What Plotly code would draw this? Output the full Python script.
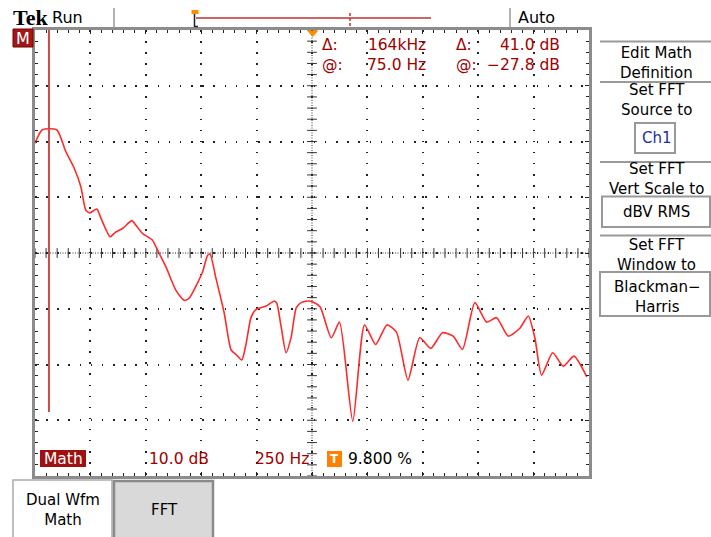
import plotly.graph_objects as go
import numpy as np

freq_hz = [0, 33, 98, 139, 176, 207, 229, 247, 279, 297, 339, 362, 395, 437, 455, 485,
           530, 553, 591, 636, 674, 696, 756, 779, 790, 817, 854, 885, 907, 933, 953,
           975, 998, 1043, 1080, 1091, 1111, 1133, 1156, 1179, 1201, 1231, 1254, 1287,
           1337, 1374, 1434, 1487, 1537, 1588, 1631, 1683, 1736, 1786, 1839, 1887, 1929,
           1985, 2038, 2083, 2135, 2188, 2226, 2256, 2286, 2336, 2384, 2432, 2490]
level_db = [19.7, 22.1, 22.1, 18.2, 15.3, 11.9, 7.7, 7.2, 7.9, 6.3, 2.9, 3.7, 4.4, 5.8, 5.0, 3.5,
            2.3, 0.5, -2.5, -6.7, -8.5, -8.1, -3.4, -0.4, -0.2, -4.6, -10.8, -17.4, -18.2, -19.2, -16.2,
            -11.5, -10.1, -9.5, -8.6, -9.0, -13.3, -17.9, -15.1, -9.8, -8.9, -8.6, -8.8, -9.7,
            -15.2, -12.4, -30.2, -12.9, -16.4, -12.9, -14.2, -22.8, -15.2, -17.1, -14.3, -14.9, -17.3,
            -8.9, -12.4, -11.6, -14.9, -13.5, -11.3, -15.3, -21.9, -17.9, -20.3, -18.5, -22.2]

cursor_hz = 63
x_range = [0, 2500]      # 250 Hz/div, 10 divisions
y_range = [-40, 40]      # 10 dB/div, 8 divisions

readout_cols = [["Δ:", "@:"], ["164kHz", "75.0 Hz"], ["Δ:", "@:"], ["41.0 dB", "−27.8 dB"]]
status_texts = ["Math", "10.0 dB", "250 Hz", "9.800 %"]
menu_labels = ["Edit Math<br>Definition", "Set FFT<br>Source to", "Ch1",
               "Set FFT<br>Vert Scale to", "dBV RMS", "Set FFT<br>Window to",
               "Blackman−<br>Harris"]

# ---------------- geometry ----------------
W, H = 711, 537
L, R, T, B = 35, 122, 30, 61
PW, PH = W - L - R, H - T - B
FONT = "DejaVu Sans"
DRED = "#a00000"


def px(x):
    return (x - L) / PW


def py(y):
    return (H - B - y) / PH


fig = go.Figure()

# centre-line tick marks
cx = np.arange(x_range[0], x_range[1] + 1, 50)
cy = np.arange(y_range[0], y_range[1] + 0.1, 2)
fig.add_trace(go.Scatter(x=cx, y=np.zeros_like(cx, dtype=float), mode="markers",
                         marker=dict(symbol="line-ns", size=7, line=dict(width=1, color="#333")),
                         hoverinfo="skip", showlegend=False))
fig.add_trace(go.Scatter(x=np.full_like(cy, 1250.0), y=cy, mode="markers",
                         marker=dict(symbol="line-ew", size=7, line=dict(width=1, color="#333")),
                         hoverinfo="skip", showlegend=False))

# FFT trace
fig.add_trace(go.Scatter(x=freq_hz, y=level_db, mode="lines",
                         line=dict(color="#ff2a2a", width=1.6, shape="spline", smoothing=0.6),
                         showlegend=False, hoverinfo="skip"))

shapes = []
ann = []

# centre lines
shapes.append(dict(type="line", xref="x", yref="y", x0=x_range[0], x1=x_range[1], y0=0, y1=0,
                   line=dict(color="#333", width=1, dash="1px,1.5px"), layer="below"))
shapes.append(dict(type="line", xref="x", yref="y", x0=1250, x1=1250, y0=y_range[0], y1=y_range[1],
                   line=dict(color="#333", width=1, dash="1px,1.5px"), layer="below"))
# cursor line
shapes.append(dict(type="line", xref="x", yref="paper", x0=cursor_hz, x1=cursor_hz, y0=py(412), y1=1,
                   line=dict(color="#cc4a4a", width=2)))
# trigger triangle at top of graticule
shapes.append(dict(type="path", xref="paper", yref="paper",
                   path=f"M {px(307)},{py(30.5)} L {px(318.5)},{py(30.5)} L {px(312.7)},{py(37)} Z",
                   fillcolor="#ff8c00", line=dict(width=0)))

# header
ann.append(dict(x=px(11), y=py(17), text="<b>Tek</b>", xanchor="left", yanchor="middle",
                font=dict(family="Liberation Serif", size=22, color="black")))
ann.append(dict(x=px(50), y=py(17), text="Run", xanchor="left", yanchor="middle",
                font=dict(family=FONT, size=16, color="black")))
ann.append(dict(x=px(516), y=py(17), text="Auto", xanchor="left", yanchor="middle",
                font=dict(family=FONT, size=16, color="black")))
for xs in (114, 510):
    shapes.append(dict(type="line", xref="paper", yref="paper", x0=px(xs), x1=px(xs), y0=py(27), y1=py(8),
                       line=dict(color="#999", width=1.5)))
# record bar
shapes.append(dict(type="line", xref="paper", yref="paper", x0=px(196), x1=px(431), y0=py(18), y1=py(18),
                   line=dict(color="#c03030", width=1.5)))
shapes.append(dict(type="line", xref="paper", yref="paper", x0=px(350), x1=px(350), y0=py(26), y1=py(11),
                   line=dict(color="#c03030", width=1.5, dash="3px,2px")))
shapes.append(dict(type="line", xref="paper", yref="paper", x0=px(194.5), x1=px(194.5), y0=py(27), y1=py(13),
                   line=dict(color="#222", width=1.5)))
shapes.append(dict(type="line", xref="paper", yref="paper", x0=px(194.5), x1=px(198), y0=py(26.5), y1=py(26.5),
                   line=dict(color="#222", width=1.5)))
shapes.append(dict(type="rect", xref="paper", yref="paper", x0=px(191.5), x1=px(198.5), y0=py(14), y1=py(10),
                   fillcolor="#ff8c00", line=dict(width=0)))

# M marker
shapes.append(dict(type="rect", xref="paper", yref="paper", x0=px(13), x1=px(33), y0=py(47), y1=py(29),
                   fillcolor="#a01818", line=dict(color="#7a0000", width=1)))
ann.append(dict(x=px(23), y=py(38.5), text="M", xanchor="center", yanchor="middle",
                font=dict(family=FONT, size=16, color="white")))

# cursor readouts (two rows per column)
ry = 55
RF = 15.5
ann.append(dict(x=px(320), y=py(ry), text="<br>".join(readout_cols[0]), xanchor="left", align="left",
                yanchor="middle", font=dict(family=FONT, size=RF, color=DRED)))
ann.append(dict(x=px(428), y=py(ry), text="<br>".join(readout_cols[1]), xanchor="right", align="right",
                yanchor="middle", font=dict(family=FONT, size=RF, color=DRED)))
ann.append(dict(x=px(454), y=py(ry), text="<br>".join(readout_cols[2]), xanchor="left", align="left",
                yanchor="middle", font=dict(family=FONT, size=RF, color=DRED)))
ann.append(dict(x=px(562), y=py(ry), text="<br>".join(readout_cols[3]), xanchor="right", align="right",
                yanchor="middle", font=dict(family=FONT, size=RF, color=DRED)))

# bottom status line
shapes.append(dict(type="rect", xref="paper", yref="paper", x0=px(40), x1=px(86), y0=py(467), y1=py(450),
                   fillcolor="#a01010", line=dict(width=0)))
ann.append(dict(x=px(63), y=py(458.5), text=status_texts[0], xanchor="center", yanchor="middle",
                font=dict(family=FONT, size=15.5, color="white")))
ann.append(dict(x=px(147), y=py(458.5), text=status_texts[1], xanchor="left", yanchor="middle",
                font=dict(family=FONT, size=15.5, color=DRED)))
ann.append(dict(x=px(253), y=py(458.5), text=status_texts[2], xanchor="left", yanchor="middle",
                font=dict(family=FONT, size=15.5, color=DRED)))
shapes.append(dict(type="rect", xref="paper", yref="paper", x0=px(327), x1=px(342), y0=py(467), y1=py(451),
                   fillcolor="#ff8000", line=dict(width=0)))
ann.append(dict(x=px(334.5), y=py(459), text="<b>T</b>", xanchor="center", yanchor="middle",
                font=dict(family=FONT, size=12, color="white")))
ann.append(dict(x=px(346), y=py(458.5), text=status_texts[3], xanchor="left", yanchor="middle",
                font=dict(family=FONT, size=15.5, color="black")))

# bottom buttons
shapes.append(dict(type="rect", xref="paper", yref="paper", x0=px(13), x1=px(112), y0=py(540), y1=py(480),
                   fillcolor="white", line=dict(color="#aaa", width=1.5)))
ann.append(dict(x=px(63), y=py(510), text="Dual Wfm<br>Math", xanchor="center", yanchor="middle",
                font=dict(family=FONT, size=15, color="black")))
shapes.append(dict(type="rect", xref="paper", yref="paper", x0=px(114), x1=px(213), y0=py(540), y1=py(481),
                   fillcolor="#d9d9d9", line=dict(color="#8a8a8a", width=2.5)))
ann.append(dict(x=px(164), y=py(510), text="FFT", xanchor="center", yanchor="middle",
                font=dict(family=FONT, size=15, color="black")))

# right side menu
for ys in (41.5, 82, 162, 235.5):
    shapes.append(dict(type="line", xref="paper", yref="paper", x0=px(600), x1=px(711), y0=py(ys), y1=py(ys),
                       line=dict(color="#999", width=2)))
menu_pos = [(62.5, None), (100, None), (138, (635, 675, 123, 153)),
            (179, None), (211.5, (602, 710, 196.5, 227)), (255, None),
            (296.5, (600, 710, 272, 316))]
for lab, (yc, box) in zip(menu_labels, menu_pos):
    color = "black"
    if box is not None:
        shapes.append(dict(type="rect", xref="paper", yref="paper", x0=px(box[0]), x1=px(box[1]),
                           y0=py(box[3]), y1=py(box[2]), fillcolor="white",
                           line=dict(color="#999", width=2)))
        if lab == "Ch1":
            color = "#1c2ea0"
    ann.append(dict(x=px(656.5), y=py(yc), text=lab, xanchor="center", yanchor="middle",
                    font=dict(family=FONT, size=15, color=color)))

for a in ann:
    a.update(xref="paper", yref="paper", showarrow=False)

axis_common = dict(showline=True, linecolor="#8c8c8c", linewidth=3, mirror="ticks",
                   ticks="inside", ticklen=4, tickcolor="#222", tickwidth=1,
                   showticklabels=False, zeroline=False, fixedrange=True,
                   showgrid=True, gridcolor="#222", gridwidth=1.5)

fig.update_layout(
    width=W, height=H,
    margin=dict(l=L, r=R, t=T, b=B, pad=0),
    paper_bgcolor="white", plot_bgcolor="white",
    xaxis=dict(range=x_range, dtick=250, tick0=0, griddash="1.5px,9.58px",
               minor=dict(ticks="inside", dtick=50, ticklen=3, tickcolor="#222", showgrid=False),
               **axis_common),
    yaxis=dict(range=y_range, dtick=10, tick0=0, griddash="1.5px,9.65px",
               minor=dict(ticks="inside", dtick=2, ticklen=3, tickcolor="#222", showgrid=False),
               **axis_common),
    shapes=shapes,
    annotations=ann,
    showlegend=False,
)

fig.write_html("out.html", config={"displayModeBar": False},
               post_script="document.body.style.margin='0';document.body.style.padding='0';"
                           "document.documentElement.style.overflow='hidden';")
